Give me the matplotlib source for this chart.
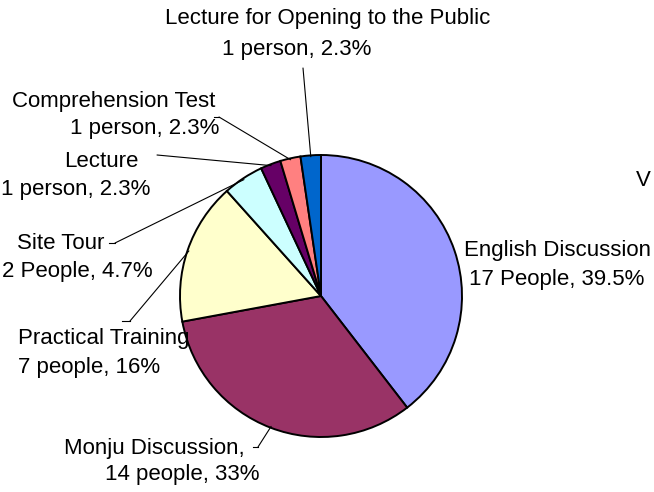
import numpy as np
import matplotlib
matplotlib.use("Agg")
import matplotlib.pyplot as plt

plt.rcParams['font.family'] = ['Liberation Sans', 'DejaVu Sans']

W, H = 654, 492

# data (clockwise from 12 o'clock)
names = ["English Discussion", "Monju Discussion", "Practical Training", "Site Tour",
         "Lecture", "Comprehension Test", "Lecture for Opening to the Public"]
counts = [17, 14, 7, 2, 1, 1, 1]
colors = ["#9999FF", "#993366", "#FFFFCC", "#CCFFFF", "#660066", "#FF8080", "#0066CC"]

# label lines: (text, centre x px, baseline y px)
label_lines = {
    "English Discussion": [("English Discussion", 558, 256), ("17 People, 39.5%", 557, 285)],
    "Monju Discussion": [("Monju Discussion,", 154, 454), ("14 people, 33%", 182, 480)],
    "Practical Training": [("Practical Training", 104, 344), ("7 people, 16%", 89, 373)],
    "Site Tour": [("Site Tour", 61, 249), ("2 People, 4.7%", 77, 277)],
    "Lecture": [("Lecture", 101, 167), ("1 person, 2.3%", 76, 195)],
    "Comprehension Test": [("Comprehension Test", 114, 107), ("1 person, 2.3%", 145, 134)],
    "Lecture for Opening to the Public": [("Lecture for Opening to the Public", 328, 24),
                                          ("1 person, 2.3%", 297, 55)],
}
# leader line start points in px (with optional short horizontal stub)
leaders = {
    "Monju Discussion": [(253, 447), (258, 447)],
    "Practical Training": [(122, 321), (130, 321)],
    "Site Tour": [(109, 243), (115, 243)],
    "Lecture": [(157, 155)],
    "Comprehension Test": [(214, 117), (219, 117)],
    "Lecture for Opening to the Public": [(303, 68)],
}


def fpos(x, y):
    return x / W, 1 - y / H


fig = plt.figure(figsize=(W / 100, H / 100), dpi=100)
cx, cy, r = 321, 296, 141
ax = fig.add_axes([(cx - r) / W, (H - cy - r) / H, 2 * r / W, 2 * r / H])
ax.pie(counts, colors=colors, startangle=90, counterclock=False,
       wedgeprops=dict(edgecolor="black", linewidth=1.4))
ax.set_xlim(-1, 1)
ax.set_ylim(-1, 1)
ax.set_aspect("equal")
ax.axis("off")

total = sum(counts)
cum = np.cumsum([0] + counts)
for i, name in enumerate(names):
    for txt, x, y in label_lines[name]:
        fx, fy = fpos(x, y)
        fig.text(fx, fy, txt, ha="center", va="baseline", fontsize=16)
    if name in leaders:
        mid = (cum[i] + counts[i] / 2) / total
        ang = np.deg2rad(90 - 360 * mid)
        pts = leaders[name]
        if len(pts) == 2:
            (x0, y0), (x1, y1) = pts
            fig.add_artist(plt.Line2D([x0 / W, x1 / W], [1 - y0 / H, 1 - y1 / H],
                                      color="black", lw=0.8))
        sx, sy = pts[-1]
        ax.annotate("", xy=(np.cos(ang) * 0.99, np.sin(ang) * 0.99), xycoords="data",
                    xytext=fpos(sx, sy), textcoords="figure fraction",
                    arrowprops=dict(arrowstyle="-", lw=0.8, color="black",
                                    shrinkA=0, shrinkB=0))

# stray letter near the right edge in the original
fig.text(636 / W, 1 - 186 / H, "V", ha="left", va="baseline", fontsize=16)

fig.savefig("out.png", dpi=100, facecolor="white")
